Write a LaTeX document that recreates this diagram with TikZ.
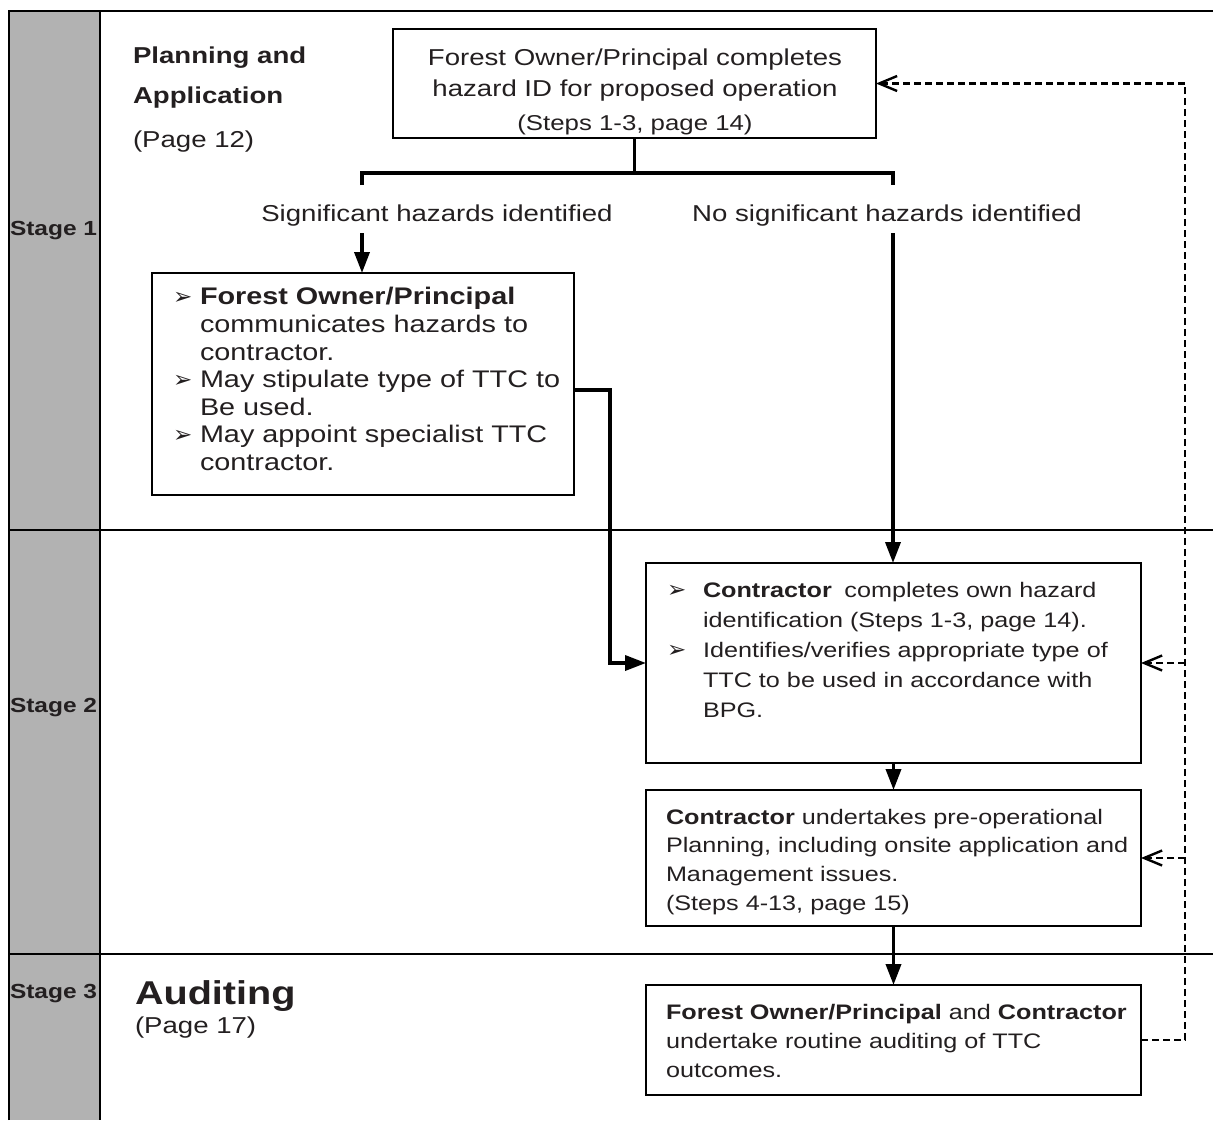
\documentclass[tikz,border=0pt]{standalone}
\usepackage{fontspec}
\setmainfont{Liberation Sans}[FakeStretch=1.2]
\newfontfamily\bulletfont{DejaVu Sans}
\usetikzlibrary{arrows.meta}
\definecolor{stagegray}{RGB}{178,178,178}
\definecolor{ink}{RGB}{35,31,32}
\newcommand\myfs[2]{\fontsize{#1}{#2}\selectfont}
\newcommand\bul[1]{\makebox[#1][l]{\bulletfont\fontsize{23}{23}\selectfont ➢}}
\tikzset{
  box/.style={draw=black, line width=2.2pt, inner sep=0pt, outer sep=0pt},
  txt/.style={inner sep=0pt, outer sep=0pt, align=left, text=ink},
  conn/.style={line width=3.6pt, black},
  arr/.style={conn, -{Triangle[length=21pt,width=15pt]}},
  fbline/.style={line width=2.4pt, black, dash pattern=on 7pt off 4pt},
  fbarr/.style={fbline, -{Straight Barb[length=18pt,width=15pt]}},
  frameline/.style={line width=2.4pt, black},
  stageline/.style={line width=1.6pt, black}
}
\begin{document}
\begin{tikzpicture}[x=1pt,y=-1pt]
\useasboundingbox (0,0) rectangle (1213,1120);
% frame
\fill[stagegray] (9,11) rectangle (100,1120);
\draw[frameline] (9,1120) -- (9,11) -- (1213,11);
\draw[frameline] (100,11) -- (100,1120);
\draw[stageline] (9,530) -- (1213,530);
\draw[stageline] (9,954) -- (1213,954);

% stage labels
\node[txt, anchor=base west, font=\bfseries\myfs{20.4}{24}] (st1) at (10,235) {Stage 1};
\node[txt, anchor=base west, font=\bfseries\myfs{20.4}{24}] (st2) at (10,712.7) {Stage 2};
\node[txt, anchor=base west, font=\bfseries\myfs{20.4}{24}] (st3) at (10,998) {Stage 3};

% section titles
\node[txt, anchor=base west, font=\bfseries\myfs{23}{28}] (plan1) at (133,63.3) {Planning and};
\node[txt, anchor=base west, font=\bfseries\myfs{23}{28}] (plan2) at (133,103.3) {Application};
\node[txt, anchor=base west, font=\myfs{23}{28}] (plan3) at (133,147) {(Page 12)};
\node[txt, anchor=base west, font=\bfseries\myfs{33}{38}] (aud1) at (135,1004) {Auditing};
\node[txt, anchor=base west, font=\myfs{23}{28}] (aud2) at (135,1033) {(Page 17)};

% boxes
\node[box, minimum width=483pt, minimum height=109pt] (top) at (634.5,83.5) {};
\node[box, minimum width=422pt, minimum height=222pt] (sig) at (363,384) {};
\node[box, minimum width=495pt, minimum height=200pt] (c1) at (893.5,663) {};
\node[box, minimum width=495pt, minimum height=136pt] (c2) at (893.5,858) {};
\node[box, minimum width=495pt, minimum height=110pt] (c3) at (893.5,1040) {};

% box texts
\node[txt, align=center, anchor=north, font=\myfs{23}{30.5}] (toptxt) at (635,49.2)
  {Forest Owner/Principal completes\\hazard ID for proposed operation};
\node[txt, anchor=base, font=\myfs{21.5}{25}] (topref) at (635,130) {(Steps 1-3, page 14)};

\node[txt, anchor=north west, font=\myfs{24}{27.6}] (sigtxt) at (173,287.5)
  {\bul{27pt}\textbf{Forest Owner/Principal}\\
   \hspace*{27pt}communicates hazards to\\
   \hspace*{27pt}contractor.\\
   \bul{27pt}May stipulate type of TTC to\\
   \hspace*{27pt}Be used.\\
   \bul{27pt}May appoint specialist TTC\\
   \hspace*{27pt}contractor.};

\node[txt, anchor=north west, font=\myfs{21}{30}] (c1txt) at (667,582.4)
  {\bul{36pt}\textbf{Contractor}\hspace{0.6em}completes own hazard\\
   \hspace*{36pt}identification (Steps 1-3, page 14).\\
   \bul{36pt}Identifies/verifies appropriate type of\\
   \hspace*{36pt}TTC to be used in accordance with\\
   \hspace*{36pt}BPG.};

\node[txt, anchor=north west, font=\myfs{21}{28.6}] (c2txt) at (666,809)
  {\textbf{Contractor} undertakes pre-operational\\
   Planning, including onsite application and\\
   Management issues.\\
   (Steps 4-13, page 15)};

\node[txt, anchor=north west, font=\myfs{21}{29}] (c3txt) at (666,1004.7)
  {\textbf{Forest Owner/Principal} and \textbf{Contractor}\\
   undertake routine auditing of TTC\\
   outcomes.};

% branch labels
\node[txt, anchor=base, font=\myfs{23}{28}] (yes) at (437,221.7) {Significant hazards identified};
\node[txt, anchor=base, font=\myfs{23}{28}] (no) at (887,221.7) {No significant hazards identified};

% connectors
\coordinate (barL) at (362,173);
\coordinate (barR) at (893,173);
\coordinate (tickL) at (362,185);
\coordinate (tickR) at (893,185);
\coordinate (yesstart) at (362,233);
\coordinate (nostart) at (893,233);
\coordinate (j1) at (610,390);
\coordinate (fbx) at (1185,0);

\draw[conn] (top.south) -- (top.south |- barL);
\draw[conn, line join=miter] (tickL) -- (barL) -- (barR) -- (tickR);
\draw[arr] (yesstart) -- (yesstart |- sig.north);
\draw[arr] (nostart) -- (nostart |- c1.north);
\draw[arr, line join=miter] (sig.east |- j1) -- (j1) -- (j1 |- c1.west) -- (c1.west);
\draw[arr] (c1.south) -- (c2.north);
\draw[arr] (c2.south) -- (c3.north);

% feedback
\draw[fbarr] (c3.east) -- (fbx |- c3.east) -- (fbx |- top.east) -- (top.east);
\draw[fbarr] (fbx |- c1.east) -- (c1.east);
\draw[fbarr] (fbx |- c2.east) -- (c2.east);
\end{tikzpicture}
\end{document}
